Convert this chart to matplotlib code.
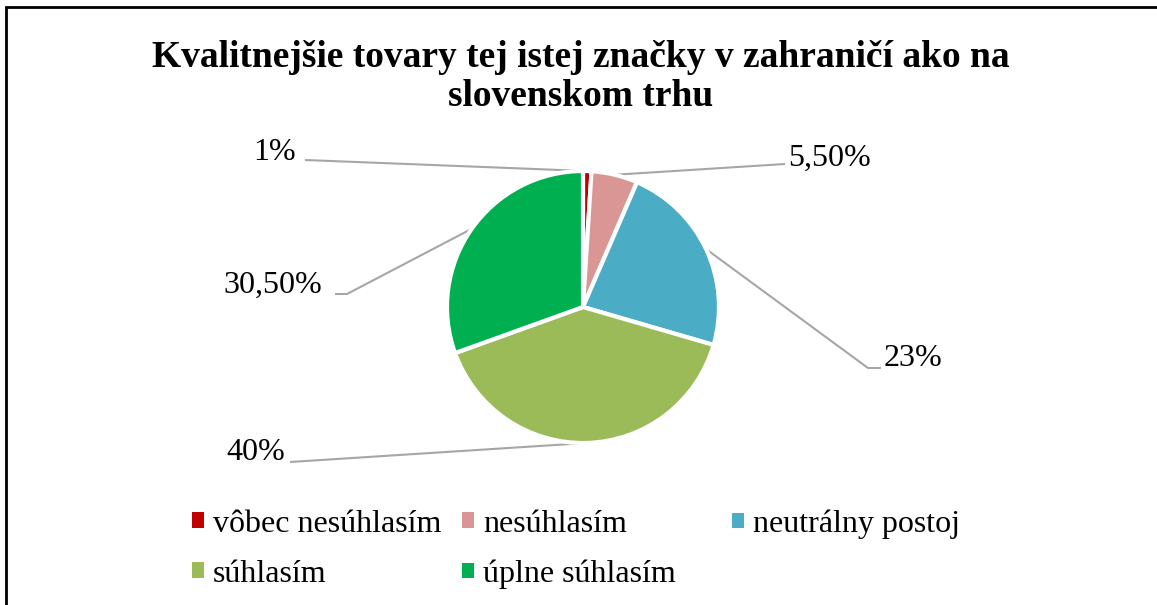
import matplotlib
matplotlib.use('Agg')
import matplotlib.pyplot as plt
import numpy as np
from matplotlib.patches import Patch, Rectangle

plt.rcParams['font.family'] = ['Liberation Serif', 'DejaVu Serif']

title = "Kvalitnejšie tovary tej istej značky v zahraničí ako na\nslovenskom trhu"
categories = ["vôbec nesúhlasím", "nesúhlasím", "neutrálny postoj", "súhlasím", "úplne súhlasím"]
values = [1, 5.5, 23, 40, 30.5]
value_labels = ["1%", "5,50%", "23%", "40%", "30,50%"]
colors = ["#C00000", "#D99694", "#4BACC6", "#9BBB59", "#00B050"]

W, H = 1157, 605
fig = plt.figure(figsize=(W / 100, H / 100), dpi=100)
ax = fig.add_axes([0, 0, 1, 1])

cx, cy, r = 583, H - 307, 136
wedges, _ = ax.pie(values, colors=colors, startangle=90, counterclock=False,
                   center=(cx, cy), radius=r, frame=True,
                   wedgeprops=dict(edgecolor='white', linewidth=3))
ax.set_xlim(0, W)
ax.set_ylim(0, H)
ax.set_aspect('equal')
ax.axis('off')

# label layout (pixel positions, y from top)
label_pos = [(275, 153), (829, 158), (913, 359), (256, 453), (273, 285)]
leader_elbow = [None, None, (868, 368), None, (347, 294)]
leader_end = [(305, 160), (785, 164), (881, 368), (290, 462), (335, 294)]

for w, lab, lp, el, le in zip(wedges, value_labels, label_pos, leader_elbow, leader_end):
    mid = np.deg2rad((w.theta1 + w.theta2) / 2)
    ex, ey = cx + r * np.cos(mid), cy + r * np.sin(mid)
    xs = [ex]
    ys = [ey]
    if el is not None:
        xs.append(el[0]); ys.append(H - el[1])
    xs.append(le[0]); ys.append(H - le[1])
    ax.plot(xs, ys, color='#A6A6A6', lw=1.5, solid_capstyle='butt', zorder=0)
    ax.text(lp[0], H - lp[1], lab, ha='center', va='center', fontsize=23, color='black')

fig.text(581 / W, 1 - 77 / H, title, ha='center', va='center', fontsize=27,
         fontweight='bold', linespacing=1.12)

# legend
col_x = [192, 462, 732]
row_y = [524, 574]
for i, (cat, col) in enumerate(zip(categories, colors)):
    rr, cc = divmod(i, 3)
    fig.legend(handles=[Patch(facecolor=col, edgecolor='none')], labels=[cat],
               loc='center left', bbox_to_anchor=(col_x[cc] / W, 1 - row_y[rr] / H),
               frameon=False, fontsize=23, borderpad=0, borderaxespad=0,
               handlelength=0.36, handleheight=0.36, handletextpad=0.3)

# chart frame (cropped at right and bottom)
fig.patches.append(Rectangle((6 / W, -0.1), 1.2, 1.1 - 7 / H, transform=fig.transFigure,
                             fill=False, edgecolor='black', linewidth=2))

fig.savefig('out.png', dpi=100)
